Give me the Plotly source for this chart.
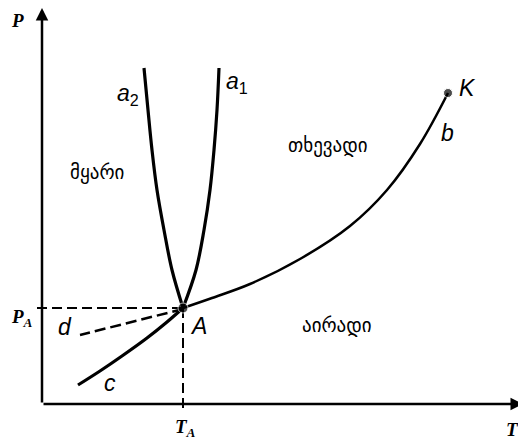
import plotly.graph_objects as go

# Coordinates measured from the axis origin (T to the right, P upwards)
A = (141, 96)
K = (406, 311)

a1_T = [177, 175, 172, 168, 162, 154, 141]
a1_P = [336, 294, 254, 214, 174, 134, 96]

a2_T = [102, 106, 110, 115, 122, 130, 141]
a2_P = [336, 294, 254, 214, 174, 134, 96]

b_T = [141, 170, 208, 258, 308, 345, 378, 406]
b_P = [96, 106, 120, 145, 178, 214, 260, 311]

c_T = [141, 125, 105, 80, 58, 36]
c_P = [96, 82, 66, 48, 33, 19]

d_T = [141, 38]
d_P = [95, 69]

phase_labels = ["მყარი", "თხევადი", "აირადი"]
phase_T = [55, 286, 295]
phase_P = [232, 259, 79]

fig = go.Figure()

solid = dict(color="black", width=3.2)
fig.add_trace(go.Scatter(x=a1_T, y=a1_P, mode="lines", line=dict(solid, shape="spline")))
fig.add_trace(go.Scatter(x=a2_T, y=a2_P, mode="lines", line=dict(solid, shape="spline")))
fig.add_trace(go.Scatter(x=b_T, y=b_P, mode="lines", line=dict(color="black", width=2.5, shape="spline")))
fig.add_trace(go.Scatter(x=c_T, y=c_P, mode="lines", line=dict(solid, shape="spline")))
fig.add_trace(go.Scatter(x=d_T, y=d_P, mode="lines", line=dict(color="black", width=2.5, dash="11px,5px")))

# guide lines to P_A and T_A
fig.add_trace(go.Scatter(x=[-5, A[0]], y=[A[1], A[1]], mode="lines",
                         line=dict(color="black", width=2, dash="10px,5px")))
fig.add_trace(go.Scatter(x=[A[0], A[0]], y=[A[1], -8], mode="lines",
                         line=dict(color="black", width=2, dash="10px,5px")))

# triple point and critical point
fig.add_trace(go.Scatter(x=[A[0], K[0]], y=[A[1], K[1]], mode="markers",
                         marker=dict(color="black", size=[10, 9])))

# axes with arrows
for tip, tail in [((0, 396), (0, 0)), ((481, 0), (0, 0))]:
    fig.add_annotation(x=tip[0], y=tip[1], ax=tail[0], ay=tail[1], xref="x", yref="y",
                       axref="x", ayref="y", showarrow=True, arrowhead=2, arrowsize=1,
                       arrowwidth=2.5, arrowcolor="black", text="")

serif = dict(family="Liberation Serif", size=19, color="black")
sans = dict(family="Liberation Sans", size=23, color="black")
labels = [
    ("<b><i>P</i></b>", -25, 384, serif),
    ("<b><i>T</i></b>", 470, -25, serif),
    ("<b><i>P<sub>A</sub></i></b>", -20, 86, serif),
    ("<b><i>T<sub>A</sub></i></b>", 143, -24, serif),
    ("<i>A</i>", 156, 78, sans),
    ("<i>K</i>", 425, 316, sans),
    ("<i>b</i>", 405, 271, sans),
    ("<i>a</i><sub>1</sub>", 195, 322, sans),
    ("<i>a</i><sub>2</sub>", 86, 310, sans),
    ("<i>c</i>", 68, 21, sans),
    ("<i>d</i>", 23, 77, sans),
]
for txt, x, y, f in labels:
    fig.add_annotation(x=x, y=y, text=txt, showarrow=False, font=f)

for txt, x, y in zip(phase_labels, phase_T, phase_P):
    fig.add_annotation(x=x, y=y, text=txt, showarrow=False,
                       font=dict(family="DejaVu Sans", size=19, color="black"))

# the page body keeps an 8px margin, so the figure is 8px smaller each way
fig.update_layout(
    width=518, height=433,
    margin=dict(l=0, r=0, t=0, b=0),
    paper_bgcolor="white", plot_bgcolor="white",
    showlegend=False,
    xaxis=dict(range=[-34, 484], visible=False),
    yaxis=dict(range=[-37, 396], visible=False),
)

fig.write_html("out.html")
